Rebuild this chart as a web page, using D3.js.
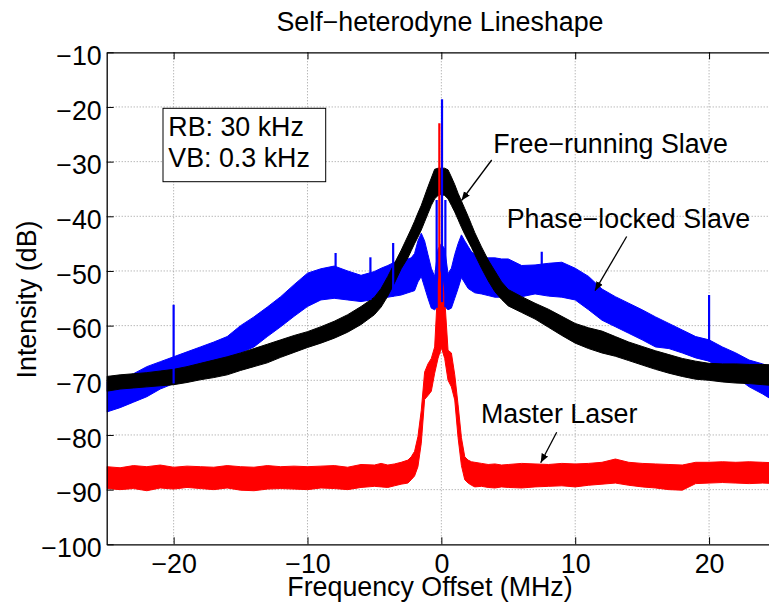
<!DOCTYPE html>
<html>
<head>
<meta charset="utf-8">
<script src="https://cdn.jsdelivr.net/npm/d3@7"></script>
<style>
  body { margin: 0; background: #fff; }
  text { font-family: "Liberation Sans", Arial, Helvetica, sans-serif; fill: #000; }
</style>
</head>
<body>
<svg id="chart" width="769" height="606"></svg>
<script>
// Frequency grid of the spectrum analyser traces (MHz offset from the beat note)
const freqMHz = [
  -25,-24,-23,-22,-21,-20,-19,-18,-17,-16,-15,-14,-13,-12,-11,-10,-9,-8,-7,-6,-5,
  -4.5,-4,-3.5,-3,-2.5,
  -2.25,-2,-1.75,-1.5,-1.25,-1,-0.75,-0.5,-0.25,0,0.25,0.5,0.75,1,1.25,1.5,1.75,2,2.25,
  2.5,3,3.5,4,4.5,
  5,6,7,8,9,10,11,12,13,14,15,16,17,18,19,20,21,22,23,24,25
];

// Free-running slave: upper / lower edge of the noisy trace (dB)
const freeHi = [
  -69.3,-69.0,-68.8,-68.6,-68.3,-68.0,-67.5,-66.9,-66.3,-65.7,-65.0,-64.2,-63.4,-62.6,-61.8,-61.1,-60.2,-59.2,-58.0,-56.5,-54.8,
  -53.2,-51.0,-48.6,-46.2,-43.6,
  -42.3,-40.9,-39.4,-38.0,-36.3,-34.6,-33.0,-31.4,-31.2,-31.2,-31.2,-31.5,-32.8,-34.2,-35.8,-37.2,-38.6,-40.0,-41.5,
  -43.0,-45.6,-48.0,-50.0,-52.0,
  -53.4,-54.7,-55.9,-57.0,-58.3,-59.6,-60.4,-61.0,-62.0,-63.0,-63.8,-64.6,-65.3,-66.0,-66.5,-66.9,-67.0,-67.0,-67.1,-67.1,-67.2
];
const freeLo = [
  -72.0,-71.6,-71.4,-71.2,-71.0,-70.8,-70.4,-69.9,-69.5,-69.0,-68.2,-67.5,-66.8,-65.8,-64.9,-64.0,-63.2,-62.3,-61.2,-59.8,-58.0,
  -56.6,-54.6,-52.2,-49.6,-47.6,
  -46.3,-45.0,-43.8,-42.5,-41.0,-39.5,-38.0,-36.8,-36.2,-36.0,-36.2,-36.8,-38.0,-39.2,-40.6,-42.0,-43.3,-44.5,-45.7,
  -47.0,-49.5,-51.8,-53.8,-55.2,
  -56.4,-57.6,-58.8,-60.3,-61.8,-63.2,-64.2,-65.0,-65.6,-66.4,-67.2,-68.0,-68.7,-69.3,-69.8,-70.0,-70.3,-70.5,-70.6,-70.8,-71.0
];

// Phase-locked slave
const lockHi = [
  -70.3,-69.8,-68.8,-67.5,-66.6,-65.7,-64.8,-63.9,-63.0,-62.0,-60.0,-58.4,-56.6,-54.7,-52.5,-50.4,-49.6,-49.1,-50.0,-50.8,-50.1,
  -49.5,-49.0,-48.4,-48.0,-47.8,
  -47.6,-46.8,-44.5,-43.1,-44.5,-47.0,-49.5,-51.0,-46.0,-45.0,-46.0,-50.5,-49.5,-47.0,-45.0,-43.4,-44.5,-45.5,-46.5,
  -47.0,-47.5,-47.6,-47.6,-47.8,
  -47.8,-49.0,-48.9,-48.6,-48.4,-49.5,-51.0,-53.3,-54.7,-55.9,-57.1,-58.4,-59.6,-60.8,-62.0,-62.6,-63.9,-65.0,-66.3,-67.0,-68.0
];
const lockLo = [
  -75.8,-75.0,-74.0,-73.0,-71.6,-70.6,-69.6,-68.6,-67.8,-66.9,-65.0,-63.9,-62.0,-60.2,-58.3,-56.5,-55.3,-55.0,-55.3,-55.6,-55.2,
  -55.0,-54.8,-54.6,-54.4,-54.0,
  -53.8,-53.6,-52.0,-51.0,-53.0,-55.0,-56.8,-57.1,-56.5,-55.5,-56.5,-57.1,-56.8,-55.0,-53.2,-51.2,-52.2,-53.2,-53.6,
  -54.0,-54.2,-54.5,-54.8,-54.8,
  -54.6,-54.7,-54.2,-54.6,-54.8,-55.3,-57.1,-59.0,-60.2,-61.4,-62.6,-63.9,-64.2,-65.0,-65.9,-66.5,-68.1,-69.4,-71.2,-72.5,-74.0
];

// Master laser
const masterHi = [
  -85.8,-86.0,-85.6,-85.8,-85.5,-85.9,-85.7,-85.8,-85.9,-85.6,-85.8,-85.9,-85.6,-85.8,-85.7,-85.8,-85.7,-85.6,-85.9,-85.4,-85.5,
  -85.2,-85.5,-85.3,-85.0,-84.6,
  -84.0,-83.0,-80.3,-75.5,-68.5,-67.0,-66.0,-63.9,-52.0,-50.0,-55.0,-64.5,-65.0,-69.0,-74.5,-80.5,-84.0,-84.6,-84.9,
  -85.0,-85.2,-85.4,-85.3,-85.5,
  -85.4,-85.2,-85.3,-85.4,-85.2,-85.3,-85.2,-85.0,-84.4,-85.0,-85.2,-85.3,-85.4,-85.5,-85.0,-85.0,-84.9,-85.0,-84.9,-85.0,-85.1
];
const masterLo = [
  -89.8,-90.0,-89.8,-90.2,-89.7,-89.9,-89.6,-89.8,-90.0,-89.7,-90.1,-90.2,-89.9,-89.8,-89.9,-90.0,-89.7,-89.8,-90.0,-89.6,-89.4,
  -89.5,-89.6,-89.3,-89.0,-88.8,
  -88.2,-87.5,-85.8,-81.5,-73.5,-72.8,-72.0,-68.7,-66.0,-64.0,-66.0,-70.0,-71.2,-73.6,-80.5,-85.6,-88.2,-88.8,-89.2,
  -89.5,-89.4,-89.6,-89.7,-89.5,
  -89.6,-89.7,-89.5,-89.4,-89.3,-89.5,-89.2,-89.0,-88.8,-89.2,-89.5,-89.7,-90.0,-90.1,-88.9,-88.8,-88.7,-88.8,-88.9,-88.8,-88.9
];

// Narrow spectral lines rising out of the traces: position (MHz) and peak (dB)
const lockSpikeF   = [-20, -7.9, -5.3, -3.6, -0.35, 0.05, 0.3, 7.5, 20];
const lockSpikeTop = [-56.2, -46.7, -47.5, -44.9, -37, -18.6, -37, -46.5, -54.4];
const masterSpikeF   = [-0.15];
const masterSpikeTop = [-23.0];

const xTicks = [-20, -10, 0, 10, 20];
const yTicks = [-10, -20, -30, -40, -50, -60, -70, -80, -90, -100];
const boxLines = ["RB: 30 kHz", "VB: 0.3 kHz"];

const svg = d3.select("#chart");
const W = 769, H = 606;
const plot = { left: 106.7, top: 52.3, right: 776, bottom: 544.3 };
const FS = 26.8;

const x = d3.scaleLinear().domain([-25, 25]).range([plot.left, plot.right]);
const y = d3.scaleLinear().domain([-100, -10]).range([plot.bottom, plot.top]);

svg.append("rect").attr("width", W).attr("height", H).attr("fill", "#fff");

svg.append("clipPath").attr("id", "clip")
  .append("rect")
  .attr("x", plot.left).attr("y", plot.top)
  .attr("width", plot.right - plot.left).attr("height", plot.bottom - plot.top);

// dotted grid
const grid = svg.append("g").attr("stroke", "#9a9a9a").attr("stroke-width", 1)
  .attr("stroke-dasharray", "1,2");
grid.selectAll(".gx").data(xTicks).join("line")
  .attr("x1", d => x(d)).attr("x2", d => x(d))
  .attr("y1", plot.top).attr("y2", plot.bottom);
grid.selectAll(".gy").data(yTicks.filter(d => d > -100 && d < -10)).join("line")
  .attr("x1", plot.left).attr("x2", plot.right)
  .attr("y1", d => y(d)).attr("y2", d => y(d));

// traces
const idx = d3.range(freqMHz.length);
const band = (hi, lo) => d3.area()
  .x(i => x(freqMHz[i])).y0(i => y(lo[i])).y1(i => y(hi[i]))(idx);

const traces = svg.append("g").attr("clip-path", "url(#clip)");
const series = [
  { hi: lockHi, lo: lockLo, color: "#0000ff", spF: lockSpikeF, spTop: lockSpikeTop },
  { hi: freeHi, lo: freeLo, color: "#000000", spF: [], spTop: [] },
  { hi: masterHi, lo: masterLo, color: "#ff0000", spF: masterSpikeF, spTop: masterSpikeTop }
];
series.forEach(s => {
  traces.append("path").attr("d", band(s.hi, s.lo))
    .attr("fill", s.color).attr("stroke", s.color).attr("stroke-width", 1)
    .attr("stroke-linejoin", "round");
});
series.forEach(s => {
  const loAt = d3.scaleLinear().domain(freqMHz).range(s.lo);
  traces.selectAll(null).data(d3.range(s.spF.length)).join("line")
    .attr("x1", i => x(s.spF[i])).attr("x2", i => x(s.spF[i]))
    .attr("y1", i => y(loAt(s.spF[i]))).attr("y2", i => y(s.spTop[i]))
    .attr("stroke", s.color).attr("stroke-width", 2.2);
});

// axes with inward ticks
const fmt = d3.format("");
const xAxis = d3.axisBottom(x).tickValues(xTicks).tickFormat(fmt).tickSizeInner(-7).tickSizeOuter(0).tickPadding(10);
const xAxisTop = d3.axisTop(x).tickValues(xTicks).tickFormat("").tickSizeInner(-7).tickSizeOuter(0);
const yAxis = d3.axisLeft(y).tickValues(yTicks).tickFormat(fmt).tickSizeInner(-7).tickSizeOuter(0).tickPadding(5);

const gx = svg.append("g").attr("transform", `translate(0,${plot.bottom})`).call(xAxis);
const gxt = svg.append("g").attr("transform", `translate(0,${plot.top})`).call(xAxisTop);
const gy = svg.append("g").attr("transform", `translate(${plot.left},0)`).call(yAxis);
[gx, gxt, gy].forEach(g => {
  g.select(".domain").attr("stroke", "#000").attr("stroke-width", 1.3);
  g.selectAll(".tick line").attr("stroke", "#000").attr("stroke-width", 1);
  g.selectAll("text").attr("font-size", FS).attr("fill", "#000")
    .attr("font-family", '"Liberation Sans", Arial, Helvetica, sans-serif');
});
gy.selectAll("text").attr("dy", "0.45em");

// titles
svg.append("text").attr("x", 440).attr("y", 31).attr("text-anchor", "middle")
  .attr("font-size", FS).text("Self\u2212heterodyne Lineshape");
svg.append("text").attr("x", 430).attr("y", 596).attr("text-anchor", "middle")
  .attr("font-size", FS).text("Frequency Offset (MHz)");
svg.append("text").attr("transform", "translate(36,299.5) rotate(-90)")
  .attr("text-anchor", "middle").attr("font-size", FS).text("Intensity (dB)");

// resolution / video bandwidth box
svg.append("rect").attr("x", 163).attr("y", 108.3).attr("width", 162.7).attr("height", 73.4)
  .attr("fill", "#fff").attr("stroke", "#000").attr("stroke-width", 1);
svg.selectAll(".boxtext").data(boxLines).join("text")
  .attr("x", 168.3).attr("y", (d, i) => 136 + i * 31.3)
  .attr("font-size", FS).text(d => d);

// annotations with arrows
const defs = svg.append("defs");
defs.append("marker").attr("id", "arrow")
  .attr("viewBox", "0 0 10 10").attr("refX", 10).attr("refY", 5)
  .attr("markerWidth", 9).attr("markerHeight", 9).attr("markerUnits", "userSpaceOnUse")
  .attr("orient", "auto")
  .append("path").attr("d", "M0,1 L10,5 L0,9 Z").attr("fill", "#000");

const notes = [
  { text: "Free\u2212running Slave", tx: 493.3, ty: 153, from: [491.7, 160], to: [461.5, 200.5] },
  { text: "Phase\u2212locked Slave", tx: 506.7, ty: 228, from: [626.7, 236.5], to: [595, 290.7] },
  { text: "Master Laser", tx: 481, ty: 423.3, from: [556.7, 432.3], to: [540.7, 462.7] }
];
notes.forEach(n => {
  svg.append("text").attr("x", n.tx).attr("y", n.ty).attr("font-size", FS).text(n.text);
  svg.append("line")
    .attr("x1", n.from[0]).attr("y1", n.from[1]).attr("x2", n.to[0]).attr("y2", n.to[1])
    .attr("stroke", "#000").attr("stroke-width", 1.3).attr("marker-end", "url(#arrow)");
});
</script>
</body>
</html>
